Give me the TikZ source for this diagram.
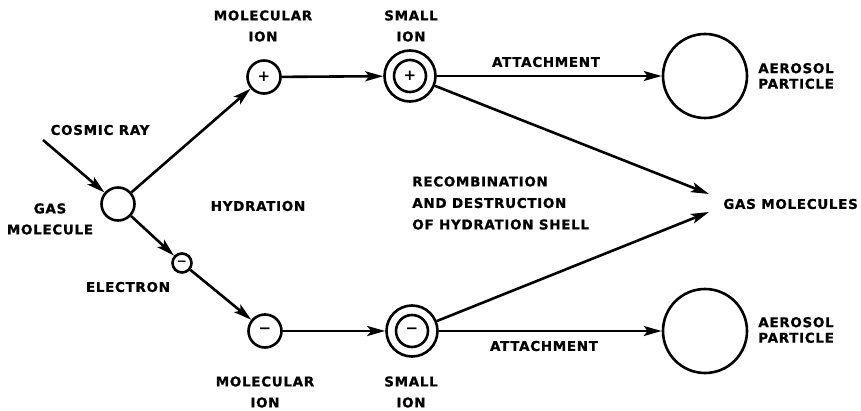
\documentclass[tikz,border=0pt]{standalone}
\usepackage{fontspec}
\newfontfamily\lab{DejaVu Sans}[LetterSpace=5,FakeBold=0.8]
\newfontfamily\sym{DejaVu Sans}
\usetikzlibrary{arrows.meta}
\begin{document}
\begin{tikzpicture}[x=1pt,y=-1pt,line width=2.6pt,
  lbl/.style={font=\lab\bfseries\fontsize{13.5}{21}\selectfont,inner sep=0pt,align=center},
  lbll/.style={font=\lab\bfseries\fontsize{13.5}{15.5}\selectfont,inner sep=0pt,align=left,anchor=west},
  ion/.style={circle,draw,minimum size=33pt,inner sep=0pt,font=\sym\bfseries\fontsize{15}{15}\selectfont},
  shell/.style={circle,draw,minimum size=51pt,inner sep=0pt},
  part/.style={circle,draw,minimum size=84pt,inner sep=0pt},
  arr/.style={-{Stealth[length=18pt,width=10pt,inset=4pt]}}]
\useasboundingbox (0,0) rectangle (861,411);
% particles
\node[ion] (gas) at (118,204) {};
\node[ion] (mip) at (264,77) {+};
\node[shell] (sip) at (410,76) {};
\node[ion,minimum size=32pt] (sipin) at (410,76) {+};
\node[ion,minimum size=19pt,font=\sym\bfseries\fontsize{12}{12}\selectfont] (el) at (182,263) {−};
\node[ion] (mim) at (265,331) {−};
\node[shell] (sim) at (412,331) {};
\node[ion,minimum size=32pt] (simin) at (412,331) {−};
\node[part] (ap1) at (705,76) {};
\node[part] (ap2) at (705,331) {};
% labels
\node[lbl] (lcr) at (100,130) {COSMIC RAY};
\node[lbl] (lgas) at (50,219) {GAS\\MOLECULE};
\node[lbl] (lel) at (128,287) {ELECTRON};
\node[lbl] (lhyd) at (258,206) {HYDRATION};
\node[lbl] (lmip) at (263,26) {MOLECULAR\\ION};
\node[lbl] (lsip) at (411,26) {SMALL\\ION};
\node[lbl] (lmim) at (265,392) {MOLECULAR\\ION};
\node[lbl] (lsim) at (411,392) {SMALL\\ION};
\node[lbl,align=left,anchor=west,font=\lab\bfseries\fontsize{13.5}{21.5}\selectfont] (lrec) at (411,203) {RECOMBINATION\\AND DESTRUCTION\\OF HYDRATION SHELL};
\node[lbl] (lat1) at (546,62) {ATTACHMENT};
\node[lbl] (lat2) at (544,346) {ATTACHMENT};
\node[lbll] (lap1) at (757,76) {AEROSOL\\PARTICLE};
\node[lbll] (lap2) at (757,330) {AEROSOL\\PARTICLE};
\node[lbl,anchor=west] (lgm) at (722,204) {GAS MOLECULES};
% coordinates
\coordinate (cr) at (43,140);
\coordinate (gmt) at (709,194);
\coordinate (gmb) at (709,212);
% connectors
\draw[arr] (cr) -- (gas);
\draw[arr] (gas) -- (mip);
\draw[arr] (gas) -- (el);
\draw[arr] (el) -- (mim);
\draw[arr] (mip) -- (sip);
\draw[arr] (mim) -- (sim);
\draw[arr] (sip) -- (ap1);
\draw[arr] (sim) -- (ap2);
\draw[arr] (sip) -- (gmt);
\draw[arr] (sim) -- (gmb);
\end{tikzpicture}
\end{document}
